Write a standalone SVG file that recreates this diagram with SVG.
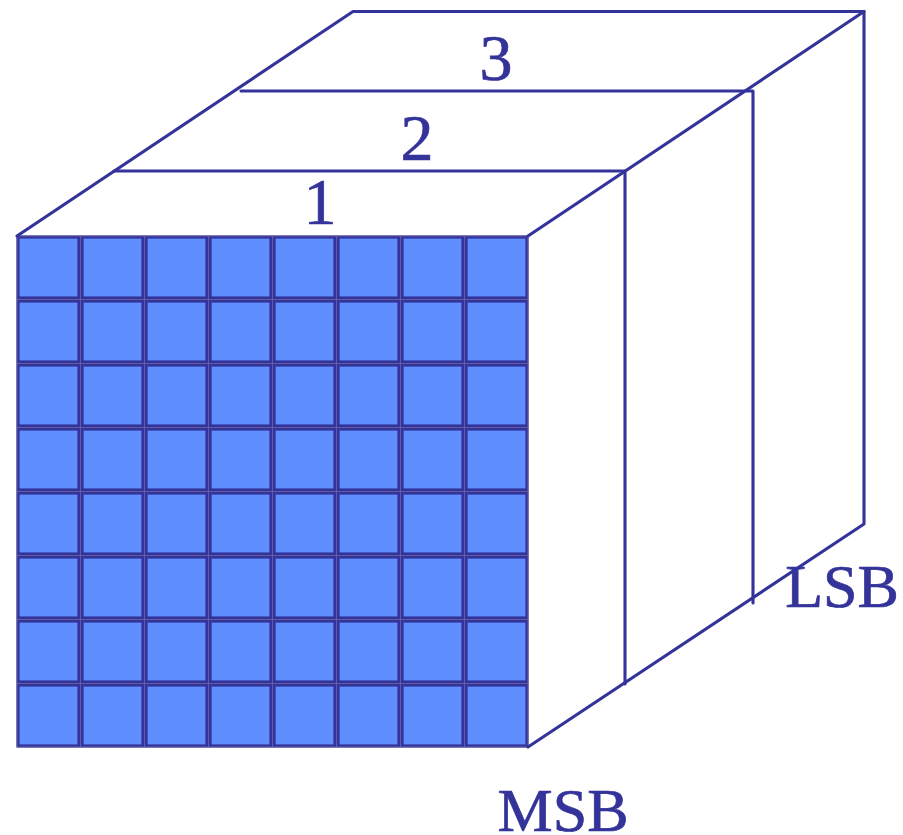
<svg xmlns="http://www.w3.org/2000/svg" width="903" height="835" viewBox="0 0 903 835">
<style>
.l{fill:none;stroke:#333399;stroke-width:3.1;stroke-linecap:round;stroke-linejoin:round}
.c{fill:#5f8fff;stroke:#333399;stroke-width:3.2}
.g{stroke:#6a6aa8;stroke-width:0.8;fill:none}
text{font-family:"Liberation Serif","Times New Roman",serif;font-size:62px;fill:#333399;stroke:#333399;stroke-width:0.7;text-anchor:middle}
.d{font-size:66px}
</style>
<defs><rect id="cell" class="c" width="61" height="61"/></defs>
<rect width="903" height="835" fill="#fff"/>
<g id="face">
<rect x="17" y="236" width="511" height="511" fill="#333399"/>
<g id="cells">
<use href="#cell" x="18" y="237"/><use href="#cell" x="82" y="237"/><use href="#cell" x="146" y="237"/><use href="#cell" x="210" y="237"/><use href="#cell" x="274" y="237"/><use href="#cell" x="338" y="237"/><use href="#cell" x="402" y="237"/><use href="#cell" x="466" y="237"/>
<use href="#cell" x="18" y="301"/><use href="#cell" x="82" y="301"/><use href="#cell" x="146" y="301"/><use href="#cell" x="210" y="301"/><use href="#cell" x="274" y="301"/><use href="#cell" x="338" y="301"/><use href="#cell" x="402" y="301"/><use href="#cell" x="466" y="301"/>
<use href="#cell" x="18" y="365"/><use href="#cell" x="82" y="365"/><use href="#cell" x="146" y="365"/><use href="#cell" x="210" y="365"/><use href="#cell" x="274" y="365"/><use href="#cell" x="338" y="365"/><use href="#cell" x="402" y="365"/><use href="#cell" x="466" y="365"/>
<use href="#cell" x="18" y="429"/><use href="#cell" x="82" y="429"/><use href="#cell" x="146" y="429"/><use href="#cell" x="210" y="429"/><use href="#cell" x="274" y="429"/><use href="#cell" x="338" y="429"/><use href="#cell" x="402" y="429"/><use href="#cell" x="466" y="429"/>
<use href="#cell" x="18" y="493"/><use href="#cell" x="82" y="493"/><use href="#cell" x="146" y="493"/><use href="#cell" x="210" y="493"/><use href="#cell" x="274" y="493"/><use href="#cell" x="338" y="493"/><use href="#cell" x="402" y="493"/><use href="#cell" x="466" y="493"/>
<use href="#cell" x="18" y="557"/><use href="#cell" x="82" y="557"/><use href="#cell" x="146" y="557"/><use href="#cell" x="210" y="557"/><use href="#cell" x="274" y="557"/><use href="#cell" x="338" y="557"/><use href="#cell" x="402" y="557"/><use href="#cell" x="466" y="557"/>
<use href="#cell" x="18" y="621"/><use href="#cell" x="82" y="621"/><use href="#cell" x="146" y="621"/><use href="#cell" x="210" y="621"/><use href="#cell" x="274" y="621"/><use href="#cell" x="338" y="621"/><use href="#cell" x="402" y="621"/><use href="#cell" x="466" y="621"/>
<use href="#cell" x="18" y="685"/><use href="#cell" x="82" y="685"/><use href="#cell" x="146" y="685"/><use href="#cell" x="210" y="685"/><use href="#cell" x="274" y="685"/><use href="#cell" x="338" y="685"/><use href="#cell" x="402" y="685"/><use href="#cell" x="466" y="685"/>
</g>
<path class="g" d="M17 236H528V747H17Z M80.500 236V747M144.500 236V747M208.500 236V747M272.500 236V747M336.500 236V747M400.500 236V747M464.500 236V747M17 299.500H528M17 363.500H528M17 427.500H528M17 491.500H528M17 555.500H528M17 619.500H528M17 683.500H528"/>
</g>
<g id="connectors">
<path class="l" d="M17 236L353 11.500H864V524L528 747"/>
<path class="l" d="M528 236L864 11.500"/>
<path class="l" d="M114 171H625V684"/>
<path class="l" d="M241 91H753V603"/>
</g>
<g id="label-1"><text class="d" x="320" y="224">1</text></g>
<g id="label-2"><text class="d" x="417" y="160">2</text></g>
<g id="label-3"><text class="d" x="496" y="80">3</text></g>
<g id="label-lsb"><text x="842" y="607">LSB</text></g>
<g id="label-msb"><text x="563" y="831">MSB</text></g>
</svg>
